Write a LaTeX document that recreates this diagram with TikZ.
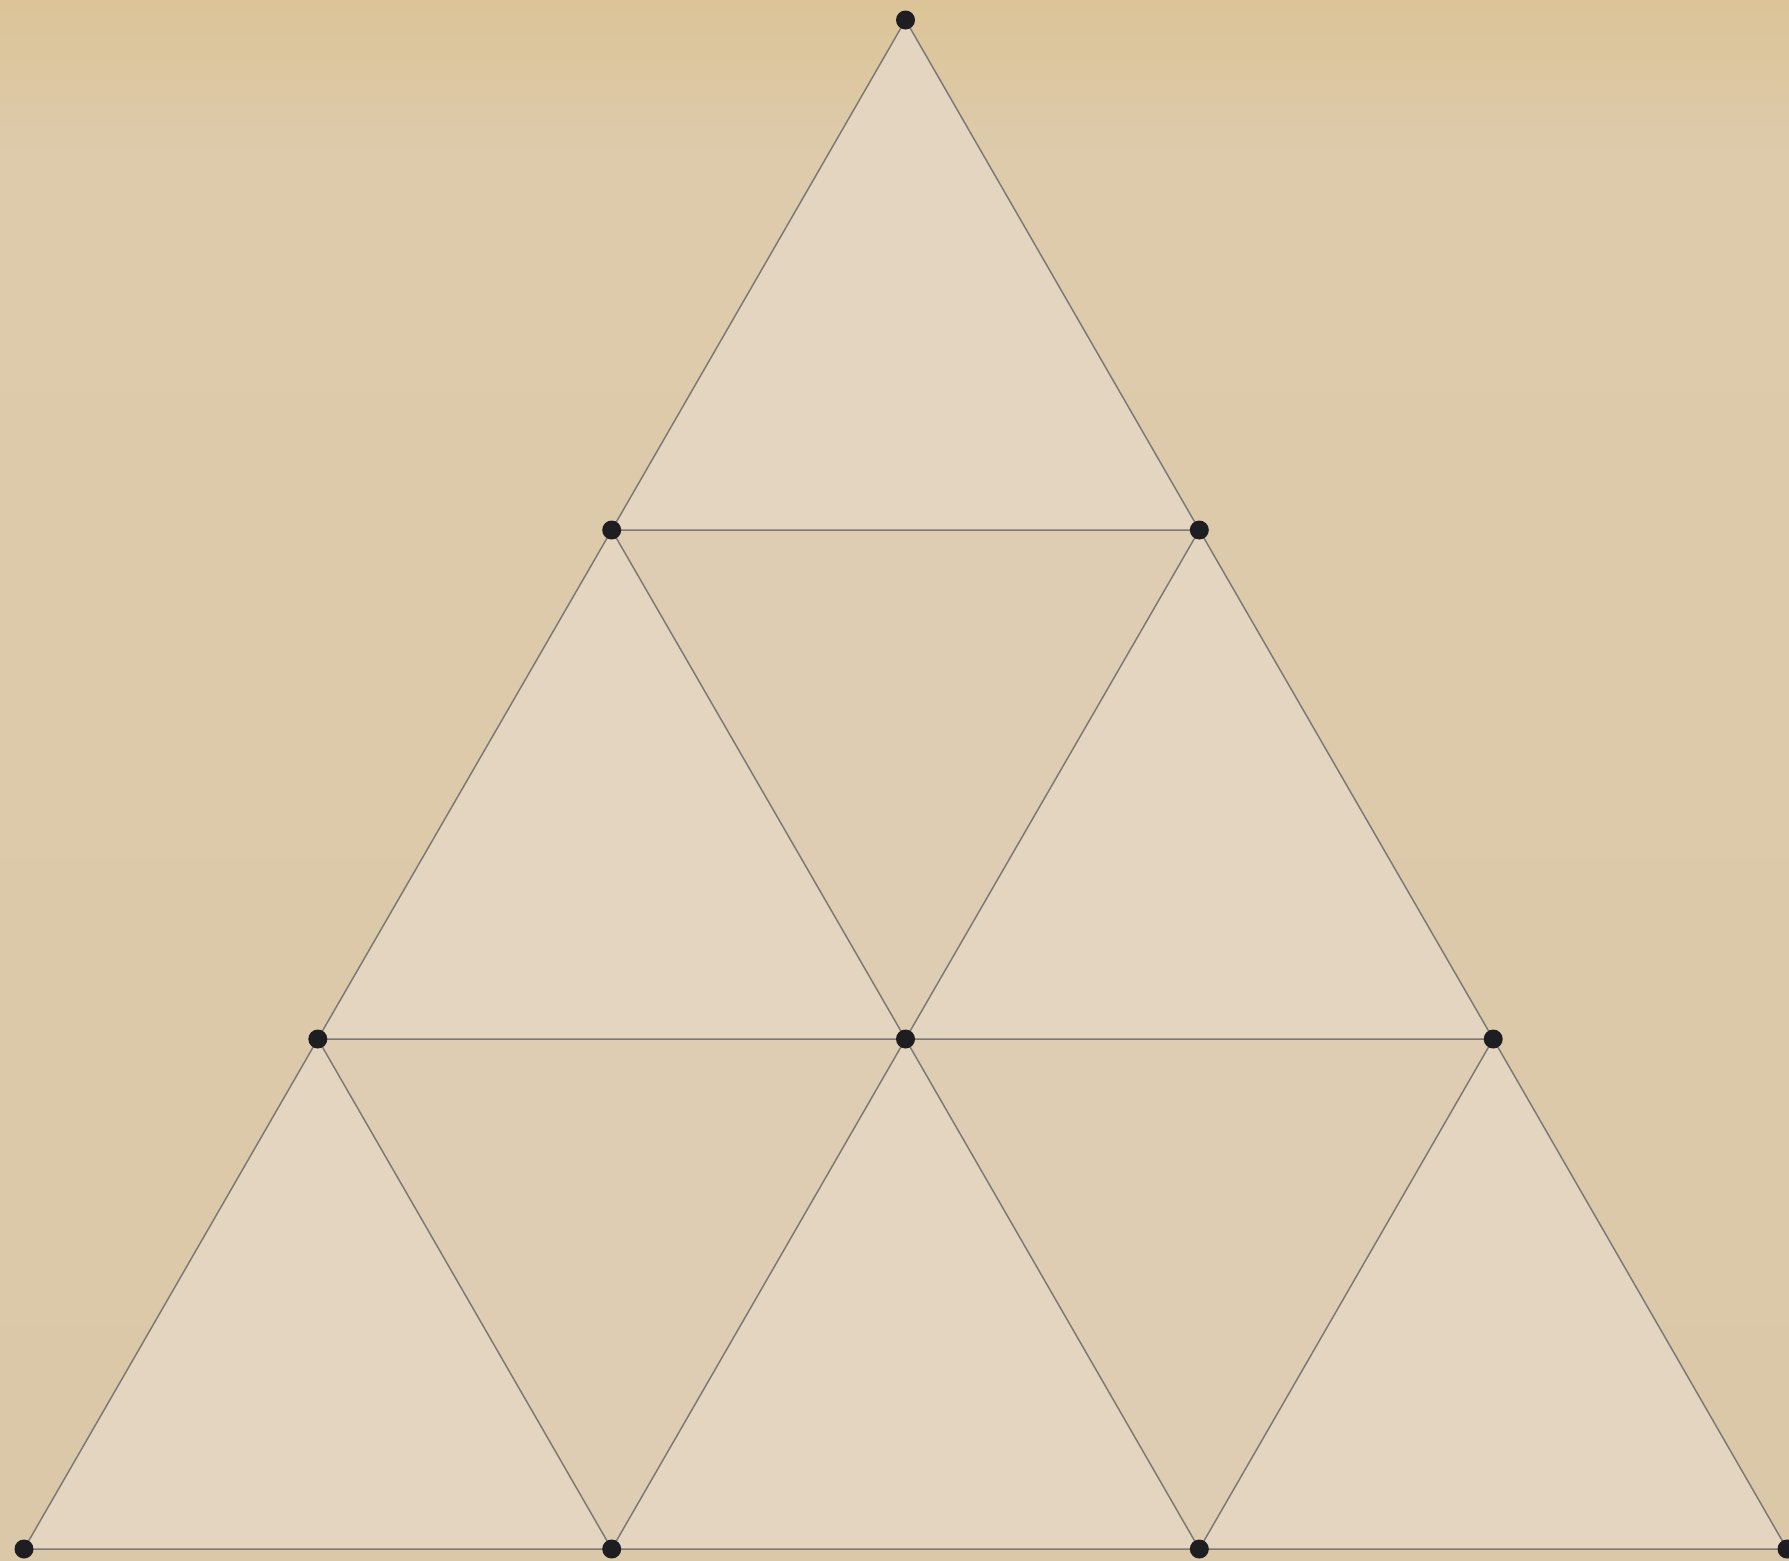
\documentclass[tikz,border=0pt]{standalone}
\definecolor{bgtop}{RGB}{220,196,152}
\definecolor{bgmid}{RGB}{221,203,172}
\definecolor{bgbot}{RGB}{218,200,169}
\definecolor{upfill}{RGB}{227,213,191}
\definecolor{downfill}{RGB}{222,205,179}
\definecolor{edgegray}{RGB}{125,122,118}
\definecolor{dotcol}{RGB}{30,30,34}
\tikzset{
  edge/.style={draw=edgegray,line width=0.75pt,line join=miter},
  uptri/.style={fill=upfill},
  downtri/.style={fill=downfill},
  vdot/.style={circle,fill=dotcol,inner sep=0pt,minimum size=9.5pt}
}
\begin{document}
\begin{tikzpicture}[x=0.5pt,y=-0.5pt]
\useasboundingbox (0,0) rectangle (1789,1560);
\clip (0,0) rectangle (1789,1560);
\shade[top color=bgtop,bottom color=bgmid] (0,0) rectangle (1789,160);
\shade[top color=bgmid,bottom color=bgbot] (0,159) rectangle (1789,1560);
% vertices
\coordinate (v00) at (905.5,20);
\coordinate (v10) at (611.7,530);
\coordinate (v11) at (1199.3,530);
\coordinate (v20) at (317.8,1039);
\coordinate (v21) at (905.5,1039);
\coordinate (v22) at (1493.2,1039);
\coordinate (v30) at (24,1549);
\coordinate (v31) at (611.7,1549);
\coordinate (v32) at (1199.3,1549);
\coordinate (v33) at (1787,1549);
% downward triangles
\fill[downtri] (v10) -- (v11) -- (v21) -- cycle;
\fill[downtri] (v20) -- (v21) -- (v31) -- cycle;
\fill[downtri] (v21) -- (v22) -- (v32) -- cycle;
% upward triangles
\foreach \a/\b/\c in {v00/v10/v11, v10/v20/v21, v11/v21/v22, v20/v30/v31, v21/v31/v32, v22/v32/v33}
  \filldraw[uptri,edge] (\a) -- (\b) -- (\c) -- cycle;
% dots
\foreach \v in {v00,v10,v11,v20,v21,v22,v30,v31,v32,v33}
  \node[vdot] (d\v) at (\v) {};
\end{tikzpicture}
\end{document}
